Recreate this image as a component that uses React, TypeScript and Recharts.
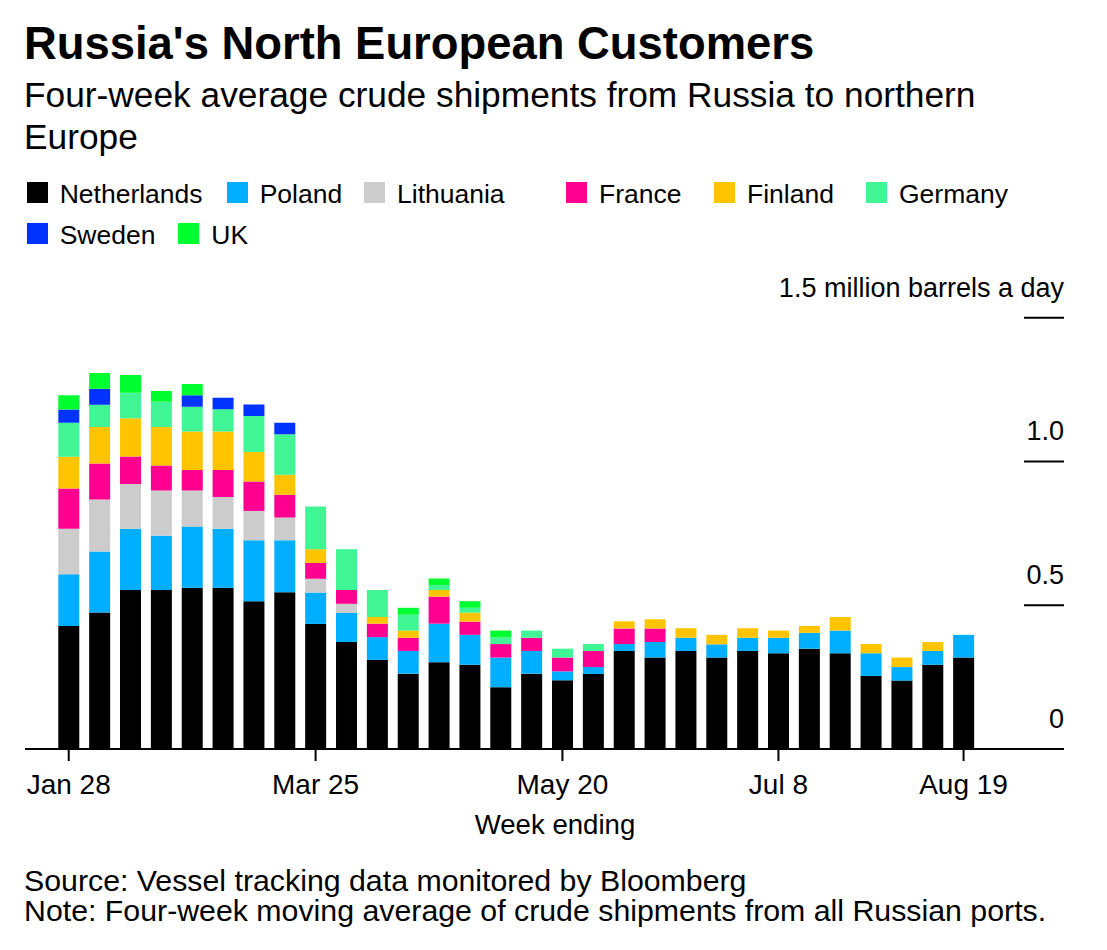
import React from 'react';
import { BarChart, Bar, XAxis, YAxis } from 'recharts';

const FONT = '"Liberation Sans", Arial, Helvetica, sans-serif';

const weeks = [
  'Jan 28', 'Feb 4', 'Feb 11', 'Feb 18', 'Feb 25', 'Mar 4', 'Mar 11', 'Mar 18', 'Mar 25',
  'Apr 1', 'Apr 8', 'Apr 15', 'Apr 22', 'Apr 29', 'May 6', 'May 13', 'May 20', 'May 27',
  'Jun 3', 'Jun 10', 'Jun 17', 'Jun 24', 'Jul 1', 'Jul 8', 'Jul 15', 'Jul 22', 'Jul 29',
  'Aug 5', 'Aug 12', 'Aug 19',
];
const xTicks = ['Jan 28', 'Mar 25', 'May 20', 'Jul 8', 'Aug 19'];
const yTicks = [0, 0.5, 1, 1.5];

const netherlands = [0.428, 0.475, 0.553, 0.553, 0.561, 0.561, 0.514, 0.545, 0.435, 0.372, 0.31, 0.262, 0.302, 0.293, 0.215, 0.262, 0.239, 0.261, 0.341, 0.318, 0.341, 0.318, 0.341, 0.333, 0.349, 0.333, 0.254, 0.238, 0.293, 0.318];
const poland = [0.18, 0.212, 0.213, 0.189, 0.213, 0.205, 0.212, 0.181, 0.109, 0.101, 0.079, 0.079, 0.134, 0.104, 0.103, 0.079, 0.031, 0.024, 0.024, 0.054, 0.046, 0.046, 0.046, 0.054, 0.055, 0.079, 0.079, 0.047, 0.048, 0.079];
const lithuania = [0.158, 0.181, 0.156, 0.157, 0.125, 0.11, 0.102, 0.079, 0.048, 0.032, 0, 0, 0, 0, 0, 0, 0, 0, 0, 0, 0, 0, 0, 0, 0, 0, 0, 0, 0, 0];
const france = [0.14, 0.125, 0.095, 0.087, 0.071, 0.094, 0.102, 0.079, 0.055, 0.048, 0.047, 0.046, 0.094, 0.046, 0.047, 0.046, 0.048, 0.056, 0.054, 0.047, 0, 0, 0, 0, 0, 0, 0, 0, 0, 0];
const finland = [0.11, 0.127, 0.133, 0.134, 0.134, 0.134, 0.103, 0.07, 0.048, 0, 0.023, 0.025, 0.023, 0.031, 0, 0, 0, 0, 0.025, 0.032, 0.033, 0.033, 0.033, 0.025, 0.024, 0.047, 0.032, 0.033, 0.031, 0];
const germany = [0.119, 0.077, 0.089, 0.088, 0.086, 0.078, 0.125, 0.141, 0.148, 0.142, 0.094, 0.055, 0.017, 0.017, 0.024, 0.025, 0.031, 0.024, 0, 0, 0, 0, 0, 0, 0, 0, 0, 0, 0, 0];
const sweden = [0.046, 0.056, 0, 0, 0.04, 0.04, 0.04, 0.04, 0, 0, 0, 0, 0, 0, 0, 0, 0, 0, 0, 0, 0, 0, 0, 0, 0, 0, 0, 0, 0, 0];
const uk = [0.049, 0.055, 0.062, 0.037, 0.039, 0, 0, 0, 0, 0, 0, 0.024, 0.023, 0.023, 0.023, 0, 0, 0, 0, 0, 0, 0, 0, 0, 0, 0, 0, 0, 0, 0];

const seriesNames = ['Netherlands', 'Poland', 'Lithuania', 'France', 'Finland', 'Germany', 'Sweden', 'UK'];
const seriesColors = ['#000000', '#00aeff', '#cccccc', '#ff0090', '#ffc400', '#40f594', '#0032ff', '#00ff2e'];
const seriesValues = [netherlands, poland, lithuania, france, finland, germany, sweden, uk];

const rows = weeks.map((w, i) => {
  const r: Record<string, number | string> = { week: w };
  seriesNames.forEach((n, k) => {
    r[n] = seriesValues[k][i];
  });
  return r;
});

// layout
const CHART_TOP = 260;
const CHART_W = 1107;
const CHART_H = 600;
const PLOT_RIGHT = 1064;
const LEGEND_X = [26.7, 226.7, 364, 566, 714, 866, 26.7, 178.3];
const LEGEND_ROW = [0, 0, 0, 0, 0, 0, 1, 1];

const YTick = (props: any) => {
  const { y, payload } = props;
  const v = payload.value;
  const label = v === 1.5 ? '1.5 million barrels a day' : v === 0 ? '0' : v.toFixed(1);
  return (
    <g>
      {v !== 0 && (
        <line x1={PLOT_RIGHT - 40} x2={PLOT_RIGHT} y1={y} y2={y} stroke="#000" strokeWidth={2} />
      )}
      <text x={PLOT_RIGHT} y={y - 21} textAnchor="end" fontSize={27} fontFamily={FONT} fill="#000">
        {label}
      </text>
    </g>
  );
};

export default function App() {
  return (
    <div
      style={{
        position: 'absolute',
        left: 0,
        top: 0,
        width: 1107,
        height: 950,
        background: '#fff',
        fontFamily: FONT,
        color: '#000',
      }}
    >
      <div style={{ position: 'absolute', left: 24, top: 20.5, fontSize: 45.4, lineHeight: '45px', fontWeight: 700, whiteSpace: 'nowrap' }}>
        Russia's North European Customers
      </div>
      <div style={{ position: 'absolute', left: 24, top: 74, fontSize: 35.3, lineHeight: '42px', whiteSpace: 'nowrap' }}>
        Four-week average crude shipments from Russia to northern
        <br />
        Europe
      </div>
      {seriesNames.map((n, k) => (
        <div
          key={n}
          style={{
            position: 'absolute',
            left: LEGEND_X[k],
            top: 174 + LEGEND_ROW[k] * 40.5,
            height: 40,
            display: 'flex',
            alignItems: 'center',
            whiteSpace: 'nowrap',
            fontSize: 26.5,
            lineHeight: '40px',
          }}
        >
          <span style={{ display: 'inline-block', width: 21, height: 21, background: seriesColors[k], marginRight: 12, marginTop: -3 }} />
          <span>{n}</span>
        </div>
      ))}
      <div style={{ position: 'absolute', left: 0, top: CHART_TOP }}>
        <BarChart
          width={CHART_W}
          height={CHART_H}
          data={rows}
          margin={{ top: 57.7, right: 42, left: 25, bottom: 51 }}
          barSize={21}
        >
          <XAxis
            dataKey="week"
            ticks={xTicks}
            interval={0}
            height={60}
            padding={{ left: 28.3, right: 85 }}
            axisLine={{ stroke: '#000', strokeWidth: 2 }}
            tickLine={{ stroke: '#000', strokeWidth: 2 }}
            tickSize={12}
            tickMargin={13}
            tick={{ fill: '#000', fontSize: 28, fontFamily: FONT }}
          />
          <YAxis
            orientation="right"
            width={1}
            domain={[0, 1.5]}
            ticks={yTicks}
            axisLine={false}
            tickLine={false}
            tick={<YTick />}
            allowDataOverflow
          />
          {seriesNames.map((n, k) => (
            <Bar key={n} dataKey={n} stackId="a" fill={seriesColors[k]} isAnimationActive={false} />
          ))}
        </BarChart>
      </div>
      <div style={{ position: 'absolute', left: 555, top: 811, transform: 'translateX(-50%)', fontSize: 27.6, lineHeight: '27px', whiteSpace: 'nowrap' }}>
        Week ending
      </div>
      <div style={{ position: 'absolute', left: 24, top: 866, fontSize: 30.3, lineHeight: '30px', whiteSpace: 'nowrap' }}>
        Source: Vessel tracking data monitored by Bloomberg
        <br />
        Note: Four-week moving average of crude shipments from all Russian ports.
      </div>
    </div>
  );
}
